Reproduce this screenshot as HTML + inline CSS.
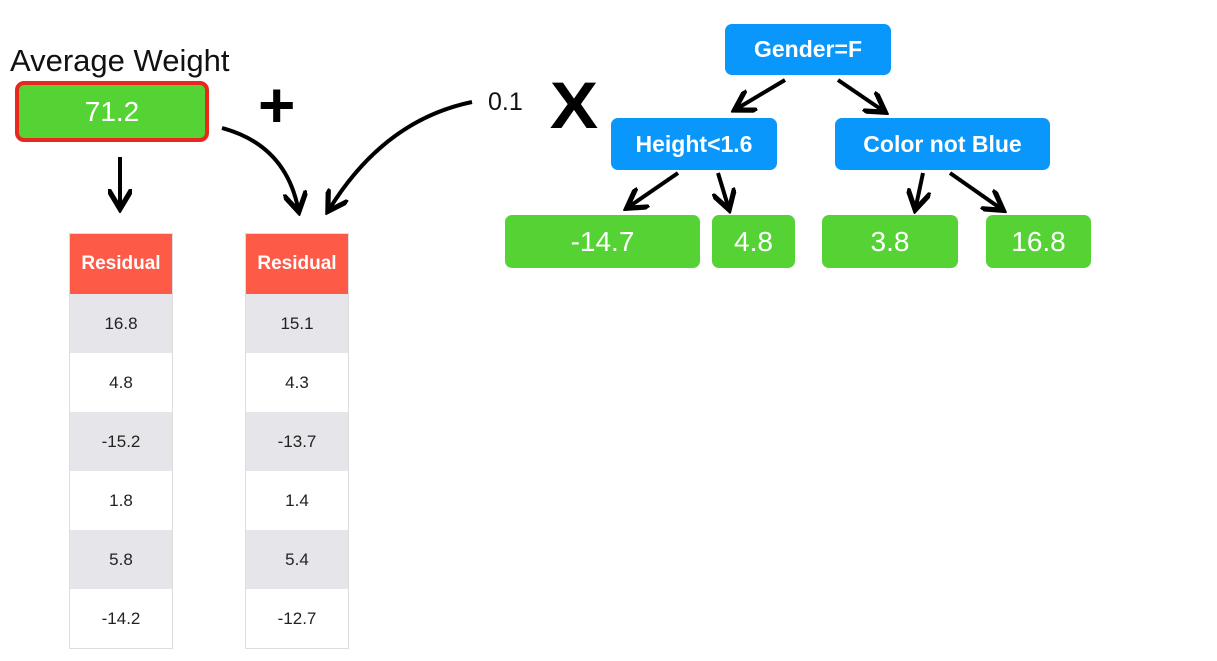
<!DOCTYPE html>
<html><head><style>
body{margin:0;width:1217px;height:661px;background:#fff;position:relative;overflow:hidden;font-family:"Liberation Sans",sans-serif}
.b{position:absolute;color:#fff;font-weight:bold;display:flex;align-items:center;justify-content:center;border-radius:7px}
.blue{background:#0a97fb;font-size:23px}
.grn{background:#55d334;font-size:28px;font-weight:normal}
.col{position:absolute;width:104px;border:1px solid #ddd;box-sizing:border-box}
.col div{height:59px;display:flex;align-items:center;justify-content:center;font-size:17px;color:#222}
.col .h{background:#fd5a47;color:#fff;font-weight:bold;font-size:19px;height:60px}
.col .g{background:#e6e6ea}
</style></head><body>
<div style="position:absolute;left:10px;top:43px;font-size:31px;color:#111">Average Weight</div>
<div class="b grn" style="left:15px;top:81px;width:194px;height:61px;border:4px solid #e8281c;box-sizing:border-box;border-radius:9px">71.2</div>
<div style="position:absolute;left:258px;top:70px;font-size:64px;font-weight:bold;line-height:70px">+</div>
<div style="position:absolute;left:488px;top:88px;font-size:25px;color:#111">0.1</div>
<div style="position:absolute;left:552px;top:70px;font-size:66px;font-weight:bold;line-height:70px;transform:scaleX(1.1)">X</div>
<div class="b blue" style="left:725px;top:24px;width:166px;height:51px">Gender=F</div>
<div class="b blue" style="left:611px;top:118px;width:166px;height:52px">Height&lt;1.6</div>
<div class="b blue" style="left:835px;top:118px;width:215px;height:52px">Color not Blue</div>
<div class="b grn" style="left:505px;top:215px;width:195px;height:53px">-14.7</div>
<div class="b grn" style="left:712px;top:215px;width:83px;height:53px">4.8</div>
<div class="b grn" style="left:822px;top:215px;width:136px;height:53px">3.8</div>
<div class="b grn" style="left:986px;top:215px;width:105px;height:53px">16.8</div>
<div class="col" style="left:69px;top:233px"><div class="h">Residual</div><div class="g">16.8</div><div>4.8</div><div class="g">-15.2</div><div>1.8</div><div class="g">5.8</div><div>-14.2</div></div>
<div class="col" style="left:245px;top:233px"><div class="h">Residual</div><div class="g">15.1</div><div>4.3</div><div class="g">-13.7</div><div>1.4</div><div class="g">5.4</div><div>-12.7</div></div>
<svg width="1217" height="661" style="position:absolute;left:0;top:0">
<defs><marker id="a" markerWidth="6" markerHeight="6" refX="4" refY="3" orient="auto"><path d="M0,0 L5,3 L0,6" fill="none" stroke="#000" stroke-width="1.3"/></marker></defs>
<g stroke="#000" stroke-width="4" fill="none" marker-end="url(#a)">
<path d="M120 157 L120 205"/>
<path d="M222 128 Q285 145 298 208"/>
<path d="M472 102 Q385 120 330 208"/>
<path d="M785 80 L738 108"/>
<path d="M838 80 L882 110"/>
<path d="M678 173 L630 206"/>
<path d="M718 173 L728 206"/>
<path d="M923 173 L916 206"/>
<path d="M950 173 L1000 208"/>
</g></svg>
</body></html>
